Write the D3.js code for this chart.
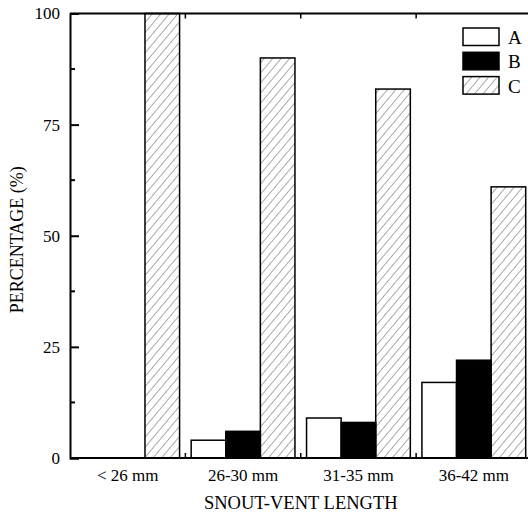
<!DOCTYPE html>
<html>
<head>
<meta charset="utf-8">
<script src="https://cdn.jsdelivr.net/npm/d3@7"></script>
<style>
  body { margin: 0; background: #fff; }
</style>
</head>
<body>
<svg id="chart"></svg>
<script>
// data
const categories = ["< 26 mm", "26-30 mm", "31-35 mm", "36-42 mm"];
const seriesNames = ["A", "B", "C"];
const valuesA = [0, 4, 9, 17];
const valuesB = [0, 6, 8, 22];
const valuesC = [100, 90, 83, 61];
const yTicks = [0, 25, 50, 75, 100];

const width = 528, height = 514;
const margin = { left: 70, top: 13.5, right: -3.5, bottom: 56 };
const serif = "'Liberation Serif', 'Times New Roman', Times, serif";

const svg = d3.select('#chart')
  .attr('width', width).attr('height', height)
  .attr('font-family', serif);

// hatch pattern for series C
const defs = svg.append('defs');
defs.append('pattern')
  .attr('id', 'hatch')
  .attr('patternUnits', 'userSpaceOnUse')
  .attr('width', 6.5).attr('height', 6.5)
  .attr('patternTransform', 'rotate(40)')
  .append('line')
    .attr('x1', 0).attr('y1', 0).attr('x2', 0).attr('y2', 6.5)
    .attr('stroke', '#444').attr('stroke-width', 0.9);

const x0 = d3.scaleBand()
  .domain(categories)
  .range([margin.left, width - margin.right])
  .paddingInner(0).paddingOuter(0);

const x1 = d3.scaleBand()
  .domain(seriesNames)
  .range([5.8, x0.bandwidth() - 5.8]);

const y = d3.scaleLinear()
  .domain([0, 100])
  .range([height - margin.bottom, margin.top]);

const fills = { A: '#fff', B: '#000', C: 'url(#hatch)' };

const rows = categories.map((c, i) => ({
  cat: c,
  vals: [
    { key: 'A', v: valuesA[i] },
    { key: 'B', v: valuesB[i] },
    { key: 'C', v: valuesC[i] }
  ]
}));

// bars
const groups = svg.append('g').attr('class', 'bars')
  .selectAll('g')
  .data(rows)
  .enter().append('g')
    .attr('transform', d => `translate(${x0(d.cat)},0)`);

groups.selectAll('rect')
  .data(d => d.vals)
  .enter().append('rect')
    .attr('x', d => x1(d.key))
    .attr('width', x1.bandwidth())
    .attr('y', d => y(d.v))
    .attr('height', d => y(0) - y(d.v))
    .attr('fill', d => fills[d.key])
    .attr('stroke', '#000')
    .attr('stroke-width', 1.5);

// left axis, ticks pointing inward
const yAxis = d3.axisLeft(y).tickValues(yTicks).tickSize(-9).tickPadding(10);
const gy = svg.append('g')
  .attr('transform', `translate(${margin.left},0)`)
  .call(yAxis)
  .attr('font-family', serif)
  .attr('font-size', 17);
gy.select('.domain').attr('stroke-width', 2);
gy.selectAll('.tick line').attr('stroke-width', 2);

// minor ticks on y
svg.append('g').selectAll('line')
  .data([12.5, 37.5, 62.5, 87.5])
  .enter().append('line')
    .attr('x1', margin.left).attr('x2', margin.left + 5)
    .attr('y1', d => y(d)).attr('y2', d => y(d))
    .attr('stroke', '#000').attr('stroke-width', 2);

// bottom axis
svg.append('line')
  .attr('x1', margin.left).attr('x2', width)
  .attr('y1', y(0)).attr('y2', y(0))
  .attr('stroke', '#000').attr('stroke-width', 2);

// top frame
svg.append('line')
  .attr('x1', margin.left).attr('x2', width)
  .attr('y1', y(100)).attr('y2', y(100))
  .attr('stroke', '#000').attr('stroke-width', 2);

// category boundary ticks (top and bottom)
const bounds = categories.slice(1).map(c => x0(c));
svg.append('g').selectAll('line')
  .data(bounds)
  .enter().append('line')
    .attr('x1', d => d).attr('x2', d => d)
    .attr('y1', y(0)).attr('y2', y(0) - 5)
    .attr('stroke', '#000').attr('stroke-width', 1.5);
svg.append('g').selectAll('line')
  .data(bounds)
  .enter().append('line')
    .attr('x1', d => d).attr('x2', d => d)
    .attr('y1', y(100)).attr('y2', y(100) + 5)
    .attr('stroke', '#000').attr('stroke-width', 1.5);

// category labels
svg.append('g').selectAll('text')
  .data(categories)
  .enter().append('text')
    .attr('x', d => x0(d) + x0.bandwidth() / 2)
    .attr('y', y(0) + 23)
    .attr('text-anchor', 'middle')
    .attr('font-size', 17)
    .text(d => d);

// axis titles
svg.append('text')
  .attr('x', (margin.left + width - margin.right) / 2)
  .attr('y', 509)
  .attr('text-anchor', 'middle')
  .attr('font-size', 18.5)
  .text('SNOUT-VENT LENGTH');

svg.append('text')
  .attr('transform', `translate(23,${(y(0) + y(100)) / 2 + 4}) rotate(-90)`)
  .attr('text-anchor', 'middle')
  .attr('font-size', 18)
  .text('PERCENTAGE (%)');

// legend
const legend = svg.append('g').attr('transform', 'translate(463,28)');
const li = legend.selectAll('g')
  .data(seriesNames)
  .enter().append('g')
    .attr('transform', (d, i) => `translate(0,${i * 24.3})`);
li.append('rect')
  .attr('width', 36).attr('height', 17.5)
  .attr('fill', d => fills[d])
  .attr('stroke', '#000').attr('stroke-width', 1.5);
li.append('text')
  .attr('x', 45).attr('y', 16)
  .attr('font-size', 19)
  .text(d => d);
</script>
</body>
</html>
